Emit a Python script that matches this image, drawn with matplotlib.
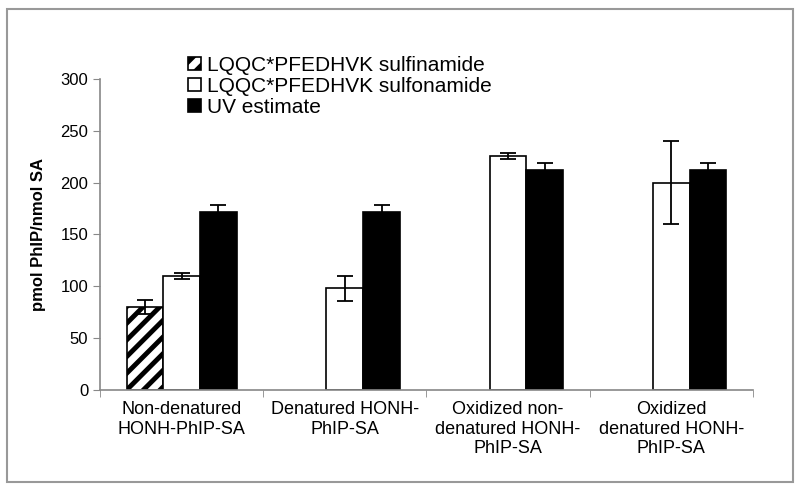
import numpy as np
import matplotlib
matplotlib.use("Agg")
import matplotlib.pyplot as plt
from matplotlib.patches import Rectangle

plt.rcParams['font.family'] = ['Liberation Sans', 'DejaVu Sans']
plt.rcParams['hatch.linewidth'] = 3.5

categories = ["Non-denatured\nHONH-PhIP-SA", "Denatured HONH-\nPhIP-SA",
              "Oxidized non-\ndenatured HONH-\nPhIP-SA", "Oxidized\ndenatured HONH-\nPhIP-SA"]
series_names = ["LQQC*PFEDHVK sulfinamide", "LQQC*PFEDHVK sulfonamide", "UV estimate"]
sulfinamide = [80, 0, 0, 0]
sulfinamide_err = [7, 0, 0, 0]
sulfonamide = [110, 98, 226, 200]
sulfonamide_err = [3, 12, 3, 40]
uv = [172, 172, 212, 212]
uv_err = [6, 6, 7, 7]

fig = plt.figure(figsize=(8, 4.91), dpi=100)
ax = fig.add_axes([0.125, 0.206, 0.816, 0.633])

x = np.arange(len(categories))
w = 0.225
gray = "#888888"

# only the first group has a sulfinamide value
mask = np.array(sulfinamide) > 0
ax.bar((x - w)[mask], np.array(sulfinamide)[mask], w, color="white", edgecolor="black",
       hatch="//", linewidth=1.2, label=series_names[0])
ax.bar(x, sulfonamide, w, color="white", edgecolor="black", linewidth=1.2, label=series_names[1])
ax.bar(x + w, uv, w, color="black", edgecolor="black", linewidth=1.2, label=series_names[2])

ax.errorbar((x - w)[mask], np.array(sulfinamide)[mask], yerr=np.array(sulfinamide_err)[mask],
            fmt="none", ecolor="black", elinewidth=1.3, capsize=6, capthick=1.3)
ax.errorbar(x, sulfonamide, yerr=sulfonamide_err, fmt="none", ecolor="black",
            elinewidth=1.3, capsize=6, capthick=1.3)
ax.errorbar(x + w, uv, yerr=uv_err, fmt="none", ecolor="black",
            elinewidth=1.3, capsize=6, capthick=1.3)

ax.set_xlim(-0.5, 3.5)
ax.set_ylim(0, 300)
ax.set_yticks(range(0, 301, 50))
ax.set_xticks(x)
ax.set_xticklabels(categories, fontsize=13)
ax.tick_params(axis="x", which="major", length=0, pad=8)
ax.set_xticks(np.arange(-0.5, 4, 1), minor=True)
ax.tick_params(axis="x", which="minor", length=5, color=gray)
ax.tick_params(axis="y", labelsize=12, length=5, color=gray)
for s in ["top", "right"]:
    ax.spines[s].set_visible(False)
for s in ["left", "bottom"]:
    ax.spines[s].set_color(gray)
    ax.spines[s].set_linewidth(1.2)

ax.set_ylabel("pmol PhIP/nmol SA", fontsize=12, fontweight="bold", labelpad=10)

ax.legend(loc="upper left", bbox_to_anchor=(0.135, 1.075), frameon=False, fontsize=15,
          handlelength=0.6, handleheight=0.6, handletextpad=0.3, labelspacing=0.1,
          borderaxespad=0, borderpad=0)

fig.patches.append(Rectangle((0.009, 0.018), 0.982, 0.963, transform=fig.transFigure,
                             fill=False, edgecolor="#999999", linewidth=1.5))

fig.savefig("out.png", dpi=100)
